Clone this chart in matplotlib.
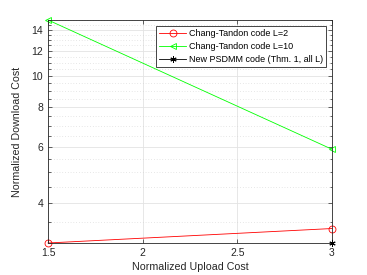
import numpy as np
import matplotlib.pyplot as plt
from matplotlib.ticker import FixedLocator, NullFormatter

# values
upload = [1.5, 3.0]
ct_l2 = [3.0, 3.33]
ct_l10 = [15.0, 5.9]
psdmm_x = [3.0]
psdmm_y = [3.0]

xticks = [1.5, 2, 2.5, 3]
yticks = [4, 6, 8, 10, 12, 14]
yminor = np.arange(3.0, 15.01, 0.5)

plt.rcParams['font.family'] = ['Liberation Sans', 'DejaVu Sans']

fig = plt.figure(figsize=(3.67, 2.75), dpi=100)
ax = fig.add_axes([0.1308, 0.1164, 0.7738, 0.8109])

ax.plot(upload, ct_l2, color='red', marker='o', mfc='none', ms=5, lw=0.6,
        mew=0.6, clip_on=False, label='Chang-Tandon code L=2')
ax.plot(upload, ct_l10, color='#00ff00', marker='<', mfc='none', ms=5, lw=0.6,
        mew=0.6, clip_on=False, label='Chang-Tandon code L=10')
ax.plot(psdmm_x, psdmm_y, color='black', marker=(6, 2, 0), ms=4.5, lw=0.6,
        mew=0.7, clip_on=False, label='New PSDMM code (Thm. 1, all L)', zorder=5)

ax.set_yscale('log')
ax.set_xlim(1.5, 3)
ax.set_ylim(3, 15)
ax.yaxis.set_major_locator(FixedLocator(yticks))
ax.yaxis.set_minor_locator(FixedLocator([v for v in yminor if v not in yticks]))
ax.yaxis.set_major_formatter(plt.FuncFormatter(lambda v, p: '%g' % v))
ax.yaxis.set_minor_formatter(NullFormatter())
ax.set_xticks(xticks)
ax.set_xticklabels(['1.5', '2', '2.5', '3'])

ax.grid(True, which='major', color='#e3e3e3', lw=0.6)
ax.grid(True, which='minor', axis='y', color='#d0d0d0', lw=0.5, ls=(0, (1, 3)))
ax.set_axisbelow(True)

for s in ax.spines.values():
    s.set_color('#262626')
    s.set_linewidth(0.6)
ax.tick_params(which='both', direction='in', top=True, right=True,
               colors='#262626', labelsize=7.5, width=0.5)
ax.tick_params(which='major', length=3)
ax.tick_params(which='minor', length=1.8)

ax.set_xlabel('Normalized Upload Cost', fontsize=7.7, color='#262626', labelpad=3)
ax.set_ylabel('Normalized Download Cost', fontsize=7.7, color='#262626', labelpad=7)

leg = ax.legend(loc='upper right', fontsize=6.5, handlelength=3.0,
                borderaxespad=0.7, borderpad=0.3, labelspacing=0.45,
                handletextpad=0.3, fancybox=False, framealpha=1)
leg.get_frame().set_edgecolor('#262626')
leg.get_frame().set_linewidth(0.6)

fig.savefig('out.png', dpi=100)
